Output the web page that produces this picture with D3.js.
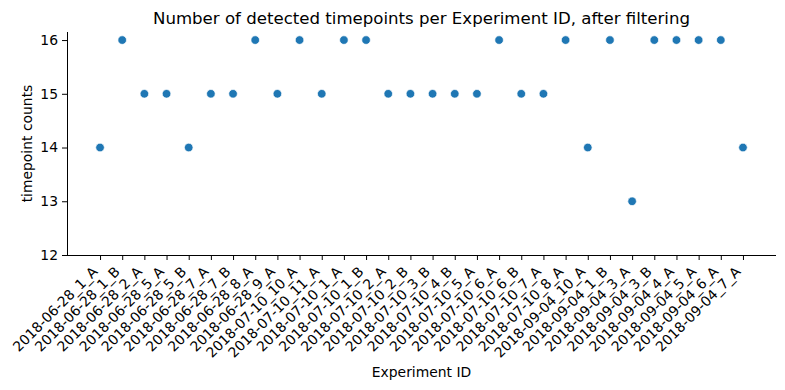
<!DOCTYPE html>
<html>
<head>
<meta charset="utf-8">
<script src="https://cdn.jsdelivr.net/npm/d3@7"></script>
<style>
  body { margin: 0; background: #fff; }
  text { font-family: "DejaVu Sans", sans-serif; fill: #000; }
</style>
</head>
<body>
<div id="chart"></div>
<script>
// Experiment IDs and detected timepoint counts
var experiments = ['2018-06-28_1_A', '2018-06-28_1_B', '2018-06-28_2_A', '2018-06-28_5_A', '2018-06-28_5_B',
    '2018-06-28_7_A', '2018-06-28_7_B', '2018-06-28_8_A', '2018-06-28_9_A', '2018-07-10_10_A',
    '2018-07-10_11_A', '2018-07-10_1_A', '2018-07-10_1_B', '2018-07-10_2_A', '2018-07-10_2_B',
    '2018-07-10_3_B', '2018-07-10_4_B', '2018-07-10_5_A', '2018-07-10_6_A', '2018-07-10_6_B',
    '2018-07-10_7_A', '2018-07-10_8_A', '2018-09-04_10_A', '2018-09-04_1_B', '2018-09-04_3_A',
    '2018-09-04_3_B', '2018-09-04_4_A', '2018-09-04_5_A', '2018-09-04_6_A', '2018-09-04_7_A'];
var counts = [14, 16, 15, 15, 14, 15, 15, 16, 15, 16,
    15, 16, 16, 15, 15, 15, 15, 15, 16, 15,
    15, 16, 14, 16, 13, 16, 16, 16, 16, 14];
var yTicks = [12, 13, 14, 15, 16];

var svgWidth = 785, svgHeight = 390;
var margin = {left: 67, right: 9, top: 32, bottom: 135};

var svg = d3.select('#chart').append('svg')
    .attr('width', svgWidth)
    .attr('height', svgHeight);

var n = experiments.length;
var x = d3.scaleLinear()
    .domain([-1.49, n - 1 + 1.49])
    .range([margin.left, svgWidth - margin.right]);

var y = d3.scaleLinear()
    .domain([12, 16.15])
    .range([svgHeight - margin.bottom, margin.top]);

// x axis
var xAxis = d3.axisBottom(x)
    .tickValues(d3.range(n))
    .tickSize(5)
    .tickFormat(function(d) { return experiments[d]; });

var gx = svg.append('g')
    .attr('transform', 'translate(0,' + (svgHeight - margin.bottom) + ')')
    .call(xAxis);
gx.select('.domain').attr('stroke', '#000')
    .attr('d', 'M' + margin.left + ',0.5H' + (svgWidth - margin.right));
gx.selectAll('.tick line').attr('stroke', '#000');
gx.selectAll('.tick text')
    .style('font-size', '13.9px')
    .attr('text-anchor', 'end')
    .attr('dy', null)
    .attr('y', 0)
    .attr('transform', 'translate(-2,17.5) rotate(-45)');

// y axis
var yAxis = d3.axisLeft(y)
    .tickValues(yTicks)
    .tickFormat(d3.format('d'))
    .tickSize(5)
    .tickPadding(4);
var gy = svg.append('g')
    .attr('transform', 'translate(' + margin.left + ',0)')
    .call(yAxis);
gy.select('.domain').attr('stroke', '#000')
    .attr('d', 'M0.5,' + y(12) + 'V' + margin.top);
gy.selectAll('.tick line').attr('stroke', '#000');
gy.selectAll('.tick text').style('font-size', '13.9px');

// points
svg.selectAll('.dot')
    .data(counts)
    .enter().append('circle')
    .attr('class', 'dot')
    .attr('cx', function(d, i) { return x(i); })
    .attr('cy', function(d) { return y(d); })
    .attr('r', 4.3)
    .attr('fill', '#1f77b4')
    .attr('stroke', '#fff')
    .attr('stroke-width', 0.7);

// Title and labels
svg.append('text')
    .attr('x', (margin.left + svgWidth - margin.right) / 2)
    .attr('y', 24)
    .attr('text-anchor', 'middle')
    .style('font-size', '16.6px')
    .text('Number of detected timepoints per Experiment ID, after filtering');

svg.append('text')
    .attr('x', (margin.left + svgWidth - margin.right) / 2)
    .attr('y', 377)
    .attr('text-anchor', 'middle')
    .style('font-size', '13.9px')
    .text('Experiment ID');

svg.append('text')
    .attr('transform', 'translate(32,' + ((margin.top + svgHeight - margin.bottom) / 2) + ') rotate(-90)')
    .attr('text-anchor', 'middle')
    .style('font-size', '13.9px')
    .text('timepoint counts');
</script>
</body>
</html>
